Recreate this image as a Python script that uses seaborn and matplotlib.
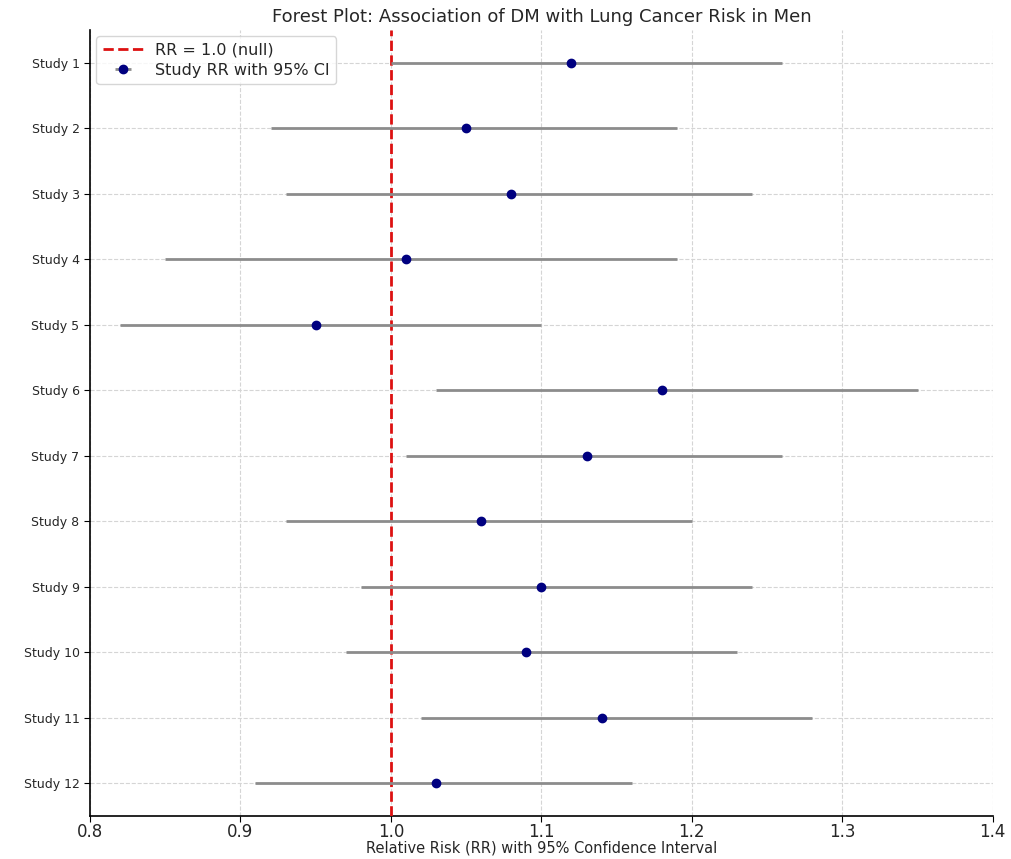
import matplotlib
matplotlib.use("Agg")
import matplotlib.pyplot as plt
import seaborn as sns

# Study data
studies = ["Study 1", "Study 2", "Study 3", "Study 4", "Study 5", "Study 6",
           "Study 7", "Study 8", "Study 9", "Study 10", "Study 11", "Study 12"]
rr = [1.12, 1.05, 1.08, 1.01, 0.95, 1.18, 1.13, 1.06, 1.10, 1.09, 1.14, 1.03]
ci_low = [1.00, 0.92, 0.93, 0.85, 0.82, 1.03, 1.01, 0.93, 0.98, 0.97, 1.02, 0.91]
ci_high = [1.26, 1.19, 1.24, 1.19, 1.10, 1.35, 1.26, 1.20, 1.24, 1.23, 1.28, 1.16]
x_ticks = [0.8, 0.9, 1.0, 1.1, 1.2, 1.3, 1.4]

sns.set_style("whitegrid", {"grid.linestyle": "--", "grid.color": "#d0d0d0"})
plt.rcParams['font.family'] = ['DejaVu Sans']

fig, ax = plt.subplots(figsize=(10.11, 8.59), dpi=100)
fig.subplots_adjust(left=0.089, right=0.982, top=0.965, bottom=0.05)

ypos = list(range(len(studies)))
err_lo = [r - l for r, l in zip(rr, ci_low)]
err_hi = [h - r for r, h in zip(rr, ci_high)]

ax.axvline(1.0, color="#dd1111", linestyle="--", linewidth=2, label="RR = 1.0 (null)", zorder=3)
ax.errorbar(rr, ypos, xerr=[err_lo, err_hi], fmt="o", color="navy", ecolor="#8c8c8c",
            elinewidth=2, capsize=0, markersize=6, label="Study RR with 95% CI", zorder=4)

ax.set_yticks(ypos)
ax.set_yticklabels(studies, fontsize=9)
ax.set_ylim(len(studies) - 0.5, -0.5)
ax.set_xlim(0.8, 1.4)
ax.set_xticks(x_ticks)
ax.set_xticklabels([f"{t:.1f}" for t in x_ticks], fontsize=12)
ax.tick_params(axis="both", length=4, color="black", left=True, bottom=True)
ax.tick_params(axis="x", pad=1)
ax.grid(True, linestyle="--", color="#d5d5d5", linewidth=0.8)

for s in ["left", "bottom"]:
    ax.spines[s].set_color("black")
    ax.spines[s].set_linewidth(1.2)
sns.despine(ax=ax)

ax.set_xlabel("Relative Risk (RR) with 95% Confidence Interval", fontsize=10.5, labelpad=0)
ax.set_title("Forest Plot: Association of DM with Lung Cancer Risk in Men", fontsize=13, pad=6)
ax.legend(loc="upper left", fontsize=11.5, frameon=True, handlelength=2.5,
          borderaxespad=0.4, labelspacing=0.3)

fig.savefig("out.png", dpi=100)
